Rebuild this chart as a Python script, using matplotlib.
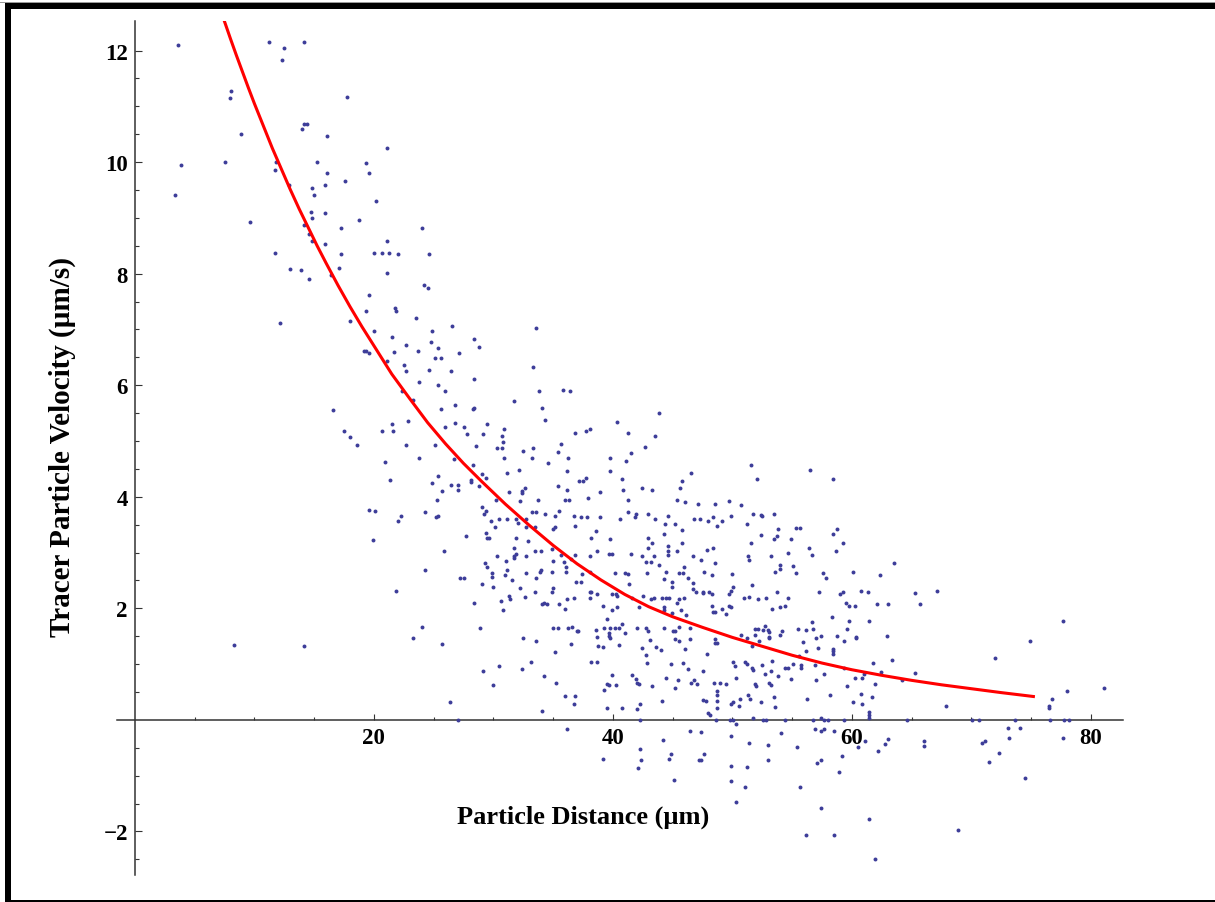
import numpy as np
import matplotlib
matplotlib.use("Agg")
import matplotlib.pyplot as plt
from matplotlib.patches import Rectangle
from matplotlib.ticker import FixedLocator

plt.rcParams['font.family'] = ['Liberation Serif', 'DejaVu Serif']
plt.rcParams['font.weight'] = 'bold'

pts = [
    (3.57,12.10),(11.21,12.16),(12.44,12.05),(14.11,12.16),(12.30,11.83),(8.06,11.28),(7.95,11.15),(17.74,11.17),
    (8.90,10.51),(14.14,10.68),(14.37,10.68),(14.00,10.60),(16.04,10.47),(21.14,10.25),(3.82,9.94),(7.56,10.01),
    (11.83,10.01),(15.20,10.01),(19.30,9.98),(11.69,9.85),(16.04,9.81),(19.58,9.81),(17.60,9.67),(12.89,9.59),
    (15.93,9.59),(14.84,9.54),(3.32,9.41),(14.98,9.41),(20.17,9.30),(14.70,9.10),(15.93,9.08),(14.84,8.99),
    (18.72,8.97),(9.65,8.92),(14.11,8.88),(17.27,8.82),(24.04,8.82),(14.56,8.71),(14.84,8.58),(21.14,8.58),
    (15.93,8.53),(11.69,8.37),(17.27,8.35),(20.03,8.37),(20.67,8.37),(21.26,8.37),(22.01,8.35),(24.63,8.35),
    (13.00,8.09),(13.86,8.07),(17.04,8.11),(16.40,7.98),(21.14,8.02),(14.59,7.91),(24.16,7.80),(24.52,7.74),
    (19.58,7.61),(19.30,7.34),(21.76,7.38),(21.87,7.34),(12.16,7.12),(17.99,7.16),(23.54,7.21),(26.58,7.06),
    (20.03,6.97),(24.88,6.97),(21.51,6.86),(24.77,6.77),(22.71,6.73),(25.38,6.66),(19.19,6.61),(19.33,6.61),
    (19.58,6.57),(21.65,6.59),(23.68,6.61),(27.09,6.57),(25.13,6.48),(25.63,6.48),(21.06,6.44),(22.48,6.37),
    (22.73,6.26),(24.63,6.28),(26.47,6.26),
    (16.60,5.55),(17.50,5.18),(18.00,5.08),(18.60,4.93),(19.60,3.77),(20.10,3.75),(19.90,3.23),
    (28.39,6.83),(28.78,6.68),(33.36,6.33),(33.61,7.03),(28.39,6.11),(23.79,6.06),(25.38,6.01),(22.34,5.89),
    (25.97,5.89),(23.29,5.73),(31.69,5.71),(33.86,5.89),(35.79,5.91),(36.40,5.89),(28.31,5.57),(28.39,5.59),
    (26.83,5.64),(25.63,5.58),(34.08,5.60),(43.90,5.51),(22.84,5.36),(21.50,5.30),(20.67,5.18),(21.62,5.18),
    (25.99,5.25),(26.83,5.33),(27.56,5.25),(27.81,5.13),(29.48,5.31),(29.15,5.12),(30.93,5.22),(30.71,5.09),
    (30.82,4.99),(34.34,5.38),(40.39,5.34),(36.87,5.14),(37.77,5.18),(38.10,5.21),(41.23,5.14),(43.54,5.09),
    (22.70,4.92),(25.13,4.92),(28.51,4.91),(30.32,4.87),(30.74,4.87),(32.52,4.83),(33.36,4.87),(35.65,4.94),
    (35.45,4.81),(42.70,4.89),(41.48,4.79),(20.89,4.63),(23.79,4.70),(26.72,4.67),(30.93,4.70),(33.25,4.70),
    (36.26,4.70),(39.77,4.70),(41.11,4.65),(34.59,4.61),(28.28,4.57),(31.18,4.43),(32.16,4.48),(36.15,4.46),
    (39.77,4.46),(46.55,4.43),(29.01,4.41),(29.37,4.34),(21.36,4.30),(28.12,4.31),(28.17,4.27),(24.88,4.24),
    (25.38,4.37),(26.47,4.21),(27.06,4.21),(27.08,4.12),(28.78,4.19),(37.21,4.28),(37.49,4.28),(37.74,4.34),
    (40.75,4.32),(45.83,4.28),(25.72,4.10),(31.32,4.08),(32.41,4.10),(32.38,4.06),(32.66,4.15),(35.42,4.19),
    (36.15,4.12),(38.91,4.08),(40.86,4.12),(42.43,4.15),(43.29,4.12),(45.60,4.15),(25.27,3.95),(30.23,3.95),
    (32.27,3.93),(33.75,3.95),(36.01,3.95),(36.32,3.95),(37.96,3.97),(41.23,3.95),(45.35,3.95),(46.08,3.90),
    (47.14,3.88),(29.01,3.82),(24.32,3.73),(29.37,3.75),(29.23,3.70),(33.22,3.73),(33.61,3.73),(34.34,3.70),
    (35.53,3.75),(35.17,3.66),(36.76,3.66),(37.35,3.64),(37.85,3.64),(38.94,3.64),(41.23,3.73),(41.95,3.69),
    (41.84,3.64),(42.93,3.69),(43.54,3.61),(44.63,3.66),(46.80,3.61),(22.23,3.66),(21.98,3.57),(25.38,3.66),
    (25.24,3.64),(29.84,3.57),(30.46,3.60),(31.18,3.60),(31.91,3.60),(32.05,3.53),(32.77,3.60),(40.64,3.60),
    (36.87,3.47),(32.77,3.45),(33.47,3.45),(34.98,3.42),(35.12,3.45),(44.38,3.51),(45.21,3.51),(30.10,3.45),
    (27.67,3.29),(29.37,3.36),(29.48,3.27),(29.62,3.27),(38.21,3.27),(38.58,3.38),(39.77,3.24),(42.93,3.27),
    (43.29,3.18),(44.27,3.33),(45.83,3.40),(45.83,3.18),(31.91,3.27),(32.88,3.20),(25.86,3.02),(31.69,3.09),
    (34.92,3.07),(33.47,3.02),(33.97,3.02),(32.77,2.94),(30.32,2.94),(31.71,2.94),(31.91,2.98),(35.67,2.96),
    (36.87,2.96),(38.10,2.94),(38.69,3.02),(39.66,2.98),(39.94,2.98),(41.48,2.98),(42.45,2.94),(43.43,2.94),
    (42.93,3.09),(44.63,3.11),(44.63,3.02),(44.63,2.96),(45.35,3.02),(46.69,2.94),
    (24.24,2.69),(21.84,2.32),(27.19,2.54),(27.56,2.54),(29.04,2.44),(29.26,2.81),(29.48,2.74),(29.87,2.63),
    (29.87,2.56),(31.07,2.85),(31.71,2.90),(30.96,2.60),(31.18,2.68),(29.98,2.39),(31.55,2.50),(32.72,2.63),
    (33.61,2.54),(34.00,2.68),(33.89,2.65),(34.95,2.65),(35.03,2.85),(35.95,2.83),(36.04,2.74),(36.04,2.65),
    (36.54,2.88),(36.90,2.47),(37.35,2.47),(37.46,2.61),(38.07,2.65),(40.14,2.63),(41.00,2.63),(41.23,2.61),
    (41.37,2.43),(42.79,2.83),(43.23,2.83),(43.88,2.77),(42.90,2.63),(44.41,2.65),(44.27,2.52),(44.99,2.47),
    (44.99,2.39),(45.58,2.63),(45.88,2.63),(45.94,2.74),(46.33,2.54),(46.72,2.45),(46.72,2.34),(47.00,2.29),
    (28.39,2.10),(30.68,2.13),(30.82,1.97),(31.32,2.23),(31.43,2.17),(32.27,2.36),(32.63,2.21),(33.50,2.30),
    (34.08,2.08),(34.22,2.10),(34.45,2.08),(34.92,2.30),(35.03,2.36),(35.53,2.08),(36.01,1.99),(36.15,2.17),
    (36.73,2.19),(38.10,2.30),(38.21,2.30),(38.10,2.19),(38.69,2.26),(39.16,2.05),(39.91,1.97),(39.91,2.26),
    (40.28,2.26),(40.39,2.23),(40.39,2.03),(41.62,2.19),(42.23,2.03),(42.56,2.23),(43.21,2.17),(43.43,2.19),
    (44.13,2.19),(44.41,2.19),(44.66,2.19),(44.27,2.03),(44.27,1.97),(44.99,1.92),(45.35,2.10),(45.58,2.17),
    (45.94,2.19),(45.72,1.97),(46.11,1.88),(24.04,1.66),(23.29,1.47),(25.72,1.37),(28.87,1.64),(32.52,1.46),
    (33.58,1.42),(35.03,1.64),(35.45,1.64),(35.17,1.22),(36.26,1.64),(36.62,1.66),(36.96,1.59),(37.12,1.59),
    (36.51,1.37),(38.58,1.62),(38.69,1.48),(38.80,1.33),(39.16,1.30),(39.30,1.64),(39.77,1.64),(40.14,1.64),
    (39.64,1.55),(39.69,1.51),(39.77,1.47),(40.50,1.64),(40.75,1.72),(41.00,1.55),(40.50,1.35),(39.55,1.81),
    (42.06,1.64),(42.79,1.64),(42.93,1.59),(43.15,1.44),(43.65,1.30),(44.02,1.25),(42.45,1.29),(42.79,1.16),
    (42.82,1.02),(44.27,1.64),(45.07,1.59),(45.21,1.60),(45.58,1.66),(45.21,1.45),(45.58,1.41),(46.08,1.27),
    (46.44,1.45),(46.44,1.64),(38.18,1.04),(38.69,1.04),(29.12,0.87),(30.46,0.96),(29.98,0.63),(32.41,0.91),
    (33.14,1.04),(34.20,0.78),(35.28,0.67),(36.01,0.43),(36.87,0.43),(36.73,0.29),(26.33,0.32),(34.08,0.16),
    (39.91,0.80),(39.55,0.64),(39.69,0.63),(40.25,0.63),(39.30,0.54),(41.62,0.80),(41.95,0.74),(42.06,0.67),
    (42.20,0.64),(43.29,0.60),(44.88,1.00),(45.86,1.02),(46.33,0.91),(44.46,0.76),(45.21,0.58),(45.49,0.71),
    (46.58,0.67),(46.80,0.71),(47.06,0.64),(44.13,0.34),(39.55,0.21),(40.75,0.21),(42.06,0.19),(42.31,0.29),
    (42.31,0.00),(27.06,0.00),(36.15,-0.17),(46.44,-0.19),(44.16,-0.36),(39.19,-0.70),(42.31,-0.52),(42.34,-0.72),
    (42.09,-0.87),(44.88,-0.61),(44.74,-0.70),(45.10,-1.07),(47.22,-0.72),
    (51.55,4.57),(56.52,4.48),(52.03,4.32),(58.44,4.32),(48.51,3.88),(49.74,3.93),(50.69,3.86),(48.40,3.64),
    (47.31,3.60),(47.93,3.56),(49.10,3.56),(48.73,3.47),(49.85,3.66),(51.19,3.51),(51.77,3.69),(52.39,3.68),
    (52.50,3.66),(53.50,3.69),(55.37,3.44),(55.68,3.44),(53.84,3.42),(52.39,3.31),(53.48,3.24),(53.73,3.29),
    (54.93,3.24),(58.44,3.33),(58.80,3.42),(59.28,3.18),(51.55,3.18),(48.40,3.09),(47.90,3.05),(47.42,2.87),
    (48.51,2.82),(51.30,2.94),(51.41,2.87),(53.25,2.94),(54.68,3.00),(56.41,3.09),(56.66,2.96),(58.69,3.02),
    (63.55,2.82),(47.65,2.65),(48.26,2.59),(49.96,2.61),(53.59,2.65),(53.95,2.78),(53.95,2.71),(55.07,2.76),
    (55.29,2.63),(57.60,2.63),(57.86,2.54),(60.14,2.65),(62.32,2.59),(50.07,2.39),(49.85,2.31),(49.74,2.26),
    (48.06,2.30),(48.26,2.26),(47.51,2.30),(47.56,2.27),(51.66,2.41),(50.94,2.18),(51.41,2.21),(52.14,2.17),
    (52.86,2.18),(53.73,2.30),(54.68,2.18),(57.24,2.30),(59.05,2.26),(59.28,2.30),(59.50,2.10),(59.78,2.05),
    (60.25,2.05),(60.73,2.31),(61.37,2.30),(62.07,2.08),(63.04,2.08),(65.25,2.27),(65.69,2.08),(67.15,2.31),
    (48.26,2.05),(48.40,1.94),(48.51,1.93),(49.10,1.99),(49.49,1.90),(49.74,2.05),(49.85,2.02),(53.34,1.99),
    (53.95,2.03),(54.45,2.05),(58.33,1.85),(59.78,1.77),(61.48,1.77),(56.63,1.75),(51.91,1.63),(52.14,1.63),
    (52.72,1.68),(52.61,1.61),(52.97,1.61),(53.08,1.57),(53.98,1.53),(54.20,1.59),(55.54,1.63),(56.15,1.62),
    (56.77,1.63),(59.64,1.63),(50.69,1.53),(51.19,1.47),(51.91,1.53),(53.11,1.48),(57.46,1.50),(56.99,1.47),
    (58.80,1.50),(60.39,1.48),(62.93,1.50),
    (48.54,1.45),(48.54,1.38),(48.76,1.38),(47.90,1.18),(51.66,1.33),(52.22,1.41),(53.08,1.46),(55.93,1.39),
    (56.13,1.24),(57.21,1.29),(58.44,1.27),(58.44,1.23),(58.44,1.18),(59.39,1.41),(60.34,1.46),(47.51,0.87),
    (50.07,1.03),(50.21,0.96),(51.08,1.03),(51.19,1.01),(51.66,0.93),(51.77,0.89),(52.50,0.98),(52.75,0.82),
    (53.23,0.87),(53.34,1.05),(54.45,0.93),(54.70,0.93),(55.04,1.00),(55.57,1.15),(55.79,0.98),(55.79,0.93),
    (56.96,0.98),(57.69,0.82),(59.39,0.93),(61.76,1.02),(62.46,0.86),(63.38,1.07),(65.33,0.84),(48.48,0.67),
    (48.96,0.67),(49.46,0.65),(50.35,0.75),(51.86,0.65),(51.97,0.60),(53.11,0.67),(53.25,0.62),(53.84,0.78),
    (54.95,0.74),(56.99,0.71),(59.64,0.60),(60.28,0.75),(60.84,0.75),(61.06,0.82),(61.96,0.65),(64.19,0.71),
    (48.76,0.52),(48.76,0.45),(51.33,0.45),(51.52,0.38),(49.85,0.29),(50.07,0.33),(50.58,0.25),(50.66,0.38),
    (52.36,0.32),(53.50,0.41),(53.59,0.23),(56.24,0.38),(58.19,0.45),(60.09,0.32),(60.73,0.47),(60.87,0.28),
    (61.71,0.41),(47.56,0.36),(47.76,0.34),(48.68,0.34),(48.73,0.21),(47.93,0.12),(48.12,0.09),(61.48,0.14),
    (61.48,0.08),(61.48,0.04),(67.87,0.25),(48.62,0.00),(49.79,0.00),(50.04,0.00),(51.77,0.03),(52.58,0.00),
    (52.86,0.00),(54.45,0.00),(56.77,0.00),(57.46,0.03),(57.69,0.00),(57.97,0.00),(59.31,0.00),(64.61,0.00),
    (50.35,-0.08),(47.40,-0.22),(49.85,-0.28),(54.06,-0.23),(56.96,-0.17),(57.46,-0.19),(57.69,-0.17),(58.52,-0.19),
    (51.41,-0.41),(53.00,-0.45),(55.40,-0.48),(60.50,-0.48),(61.12,-0.37),(62.21,-0.55),(62.79,-0.44),(63.04,-0.35),
    (66.08,-0.37),(66.08,-0.46),(59.17,-0.65),(47.40,-0.72),(47.65,-0.61),(53.00,-0.72),(57.13,-0.78),(57.46,-0.72),
    (49.85,-0.83),(51.19,-0.85),(58.91,-0.94),(49.85,-1.10),(51.05,-1.20),(55.65,-1.20),(50.32,-1.47),(57.46,-1.57),
    (61.48,-1.78),(56.15,-2.06),(58.52,-2.06),(61.96,-2.50),(68.93,-1.97),
    (71.99,1.11),(74.89,1.42),(77.68,1.77),(81.08,0.58),(78.04,0.51),(76.73,0.38),(76.48,0.25),(76.48,0.22),
    (70.07,0.00),(70.68,0.00),(73.69,0.00),(76.59,0.00),(77.76,0.00),(78.18,0.00),(73.08,-0.14),(74.05,-0.14),
    (73.19,-0.32),(77.68,-0.32),(70.90,-0.41),(71.15,-0.37),(72.35,-0.59),(71.49,-0.76),(74.53,-1.05),
    (8.28,1.35),(14.14,1.33),
]
dist = [p[0] for p in pts]
vel = [p[1] for p in pts]

# fitted decay curve
fit_x = [7.0, 7.5, 8.0, 8.5, 9.0, 9.5, 10.0, 10.75, 11.5, 12.25, 13.0, 13.75, 14.5, 15.25, 16.0,
         17.0, 18.0, 19.0, 20.0, 21.5, 23.0, 24.5, 26.0, 27.5, 29.0, 31.0, 33.0, 35.0, 37.0, 39.0,
         41.0, 43.0, 45.0, 47.5, 50.0, 52.5, 55.0, 57.5, 60.0, 62.5, 65.0, 67.5, 70.0, 72.5, 75.2]
fit_y = [12.83, 12.52, 12.21, 11.91, 11.62, 11.33, 11.05, 10.65, 10.25, 9.88, 9.51, 9.16, 8.83, 8.50, 8.19,
         7.79, 7.41, 7.05, 6.71, 6.20, 5.76, 5.33, 4.95, 4.60, 4.28, 3.87, 3.49, 3.13, 2.80, 2.51,
         2.25, 2.03, 1.85, 1.66, 1.48, 1.32, 1.16, 1.02, 0.90, 0.80, 0.71, 0.63, 0.56, 0.49, 0.42]

x_major = [20, 40, 60, 80]
y_major = [-2, 2, 4, 6, 8, 10, 12]

W, H = 1215, 903
fig = plt.figure(figsize=(W / 100, H / 100), dpi=100)
ax = fig.add_axes([117 / W, 1 - 876 / H, (1123 - 117) / W, (876 - 22) / H])

ax.scatter(dist, vel, s=8, color=(0.24, 0.24, 0.6), linewidths=0, zorder=3)
ax.plot(fit_x, fit_y, color='red', lw=2.2, zorder=4, solid_joinstyle='round')

ax.set_xlim(-1.5, 82.7)
ax.set_ylim(-2.78, 12.53)

for s in ['top', 'right']:
    ax.spines[s].set_visible(False)
ax.spines['left'].set_position(('data', 0))
ax.spines['bottom'].set_position(('data', 0))
for s in ['left', 'bottom']:
    ax.spines[s].set_color('#333333')
    ax.spines[s].set_linewidth(1.1)

ax.xaxis.set_major_locator(FixedLocator(x_major))
ax.xaxis.set_minor_locator(FixedLocator([v for v in range(5, 85, 5) if v % 20]))
ax.yaxis.set_major_locator(FixedLocator(y_major))
ax.yaxis.set_minor_locator(FixedLocator([v / 2 for v in range(-5, 25) if v % 4]))
ax.set_xticklabels([str(v) for v in x_major])
ax.set_yticklabels([str(v).replace('-', '\u2212') for v in y_major])

ax.tick_params(axis='x', which='major', direction='in', length=4.2, width=0.8, color='#333333',
               pad=5, labelsize=16.5)
ax.tick_params(axis='x', which='minor', direction='in', length=2.4, width=0.8, color='#333333')
ax.tick_params(axis='y', which='major', direction='in', length=4.8, width=0.8, color='#333333',
               pad=5, labelsize=16.5)
ax.tick_params(axis='y', which='minor', direction='in', length=3.1, width=0.8, color='#333333')
for lab in ax.get_xticklabels() + ax.get_yticklabels():
    lab.set_fontweight('bold')

fig.text(583 / W, 1 - 817 / H, 'Particle Distance (\u00b5m)', ha='center', va='center',
         fontsize=19, fontweight='bold')
fig.text(62 / W, 1 - 447 / H, 'Tracer Particle Velocity (\u00b5m/s)', ha='center', va='center',
         rotation=90, fontsize=21, fontweight='bold')

# black frame around the picture
fig.add_artist(Rectangle((5 / W, 0), 6 / W, 1 - 5 / H, transform=fig.transFigure,
                         color='black', lw=0))
fig.add_artist(Rectangle((5 / W, 1 - 10 / H), 1, 6 / H, transform=fig.transFigure,
                         color='black', lw=0))
fig.add_artist(Rectangle((0, 1 - 4 / H), 1, 1 / H, transform=fig.transFigure,
                         color='#999999', lw=0))
fig.add_artist(Rectangle((5 / W, 0), 1, 2 / H, transform=fig.transFigure,
                         color='black', lw=0))

fig.savefig('out.png', dpi=100)
